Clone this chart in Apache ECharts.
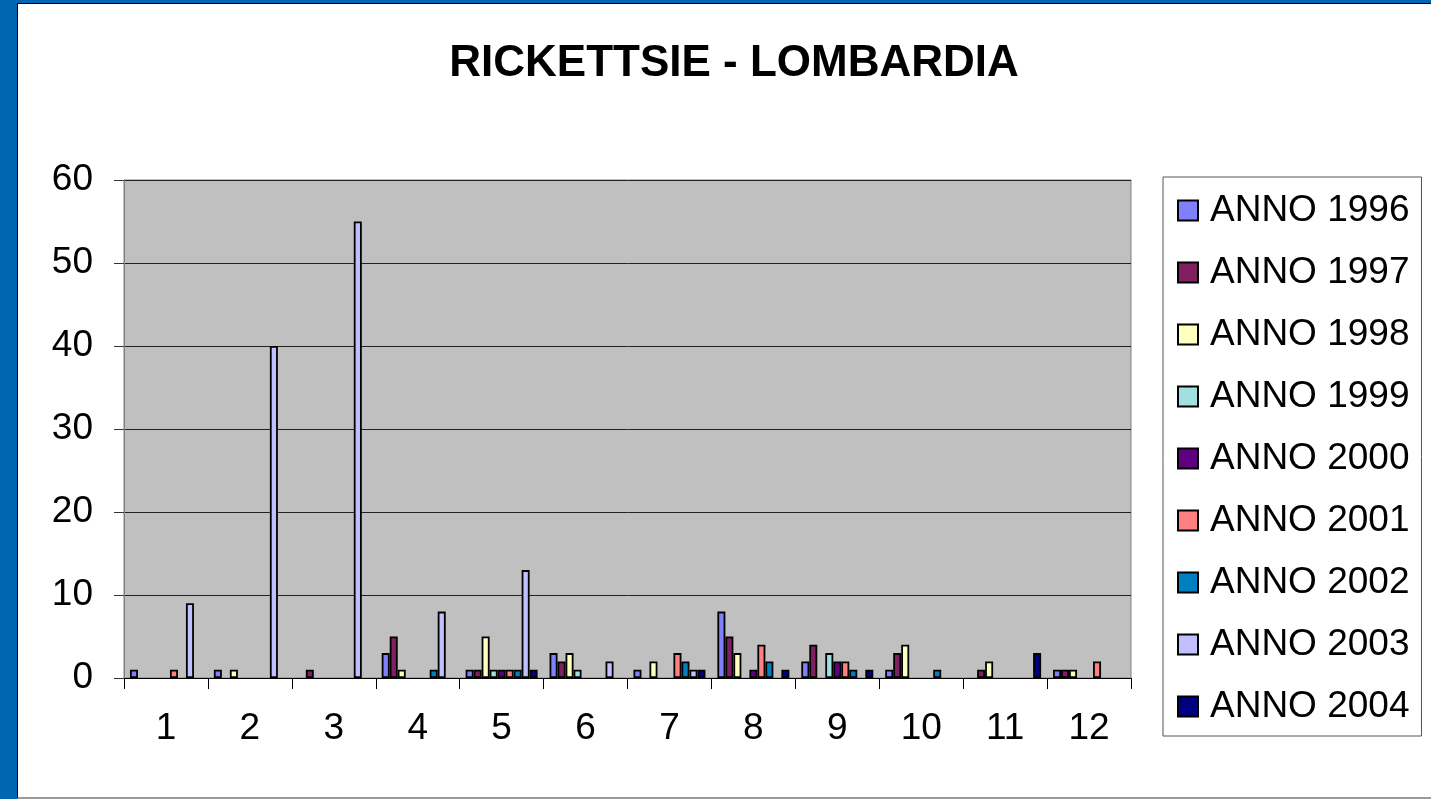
<!DOCTYPE html>
<html>
<head>
<meta charset="utf-8">
<script src="https://cdn.jsdelivr.net/npm/echarts@6/dist/echarts.min.js"></script>
<style>
html, body { margin: 0; padding: 0; background: #0066b3; }
#frame { position: absolute; left: 17px; top: 3px; width: 1414px; height: 796px; background: #fff; box-sizing: border-box; border-left: 1px solid #000; border-top: 1px solid #000; border-bottom: 2px solid #999; overflow: hidden; }
#chart { position: absolute; left: -18px; top: -4px; width: 1431px; height: 799px; }
</style>
</head>
<body>
<div id="frame"><div id="chart"></div></div>
<script>
// mesi
var mesi = ['1', '2', '3', '4', '5', '6', '7', '8', '9', '10', '11', '12'];
var anni = ['ANNO 1996', 'ANNO 1997', 'ANNO 1998', 'ANNO 1999', 'ANNO 2000', 'ANNO 2001', 'ANNO 2002', 'ANNO 2003', 'ANNO 2004'];
var colori = ['#8080ff', '#802060', '#ffffc0', '#a0e0e0', '#600080', '#ff8080', '#0080c0', '#c0c0ff', '#000080'];

// casi per mese, un array per anno
var a1996 = [1, 1, 0, 3, 1, 3, 1, 8, 2, 1, 0, 1];
var a1997 = [0, 0, 1, 5, 1, 2, 0, 5, 4, 3, 1, 1];
var a1998 = [0, 1, 0, 1, 5, 3, 2, 3, 0, 4, 2, 1];
var a1999 = [0, 0, 0, 0, 1, 1, 0, 0, 3, 0, 0, 0];
var a2000 = [0, 0, 0, 0, 1, 0, 0, 1, 2, 0, 0, 0];
var a2001 = [1, 0, 0, 0, 1, 0, 3, 4, 2, 0, 0, 2];
var a2002 = [0, 0, 0, 1, 1, 0, 2, 2, 1, 1, 0, 0];
var a2003 = [9, 40, 55, 8, 13, 2, 1, 0, 0, 0, 0, 0];
var a2004 = [0, 0, 0, 0, 1, 0, 1, 1, 1, 0, 3, 0];
var valori = [a1996, a1997, a1998, a1999, a2000, a2001, a2002, a2003, a2004];

var myChart = echarts.init(document.getElementById('chart'));
var font = 'Liberation Sans, Arial, sans-serif';

var serie = [];
for (var i = 0; i < anni.length; i++) {
	serie.push({
		name: anni[i],
		type: 'bar',
		barWidth: 8,
		barGap: '0%',
		itemStyle: { color: colori[i], borderColor: '#000', borderWidth: 1.8 },
		data: valori[i].map(function (v) { return v === 0 ? null : v; })
	});
}

var option = {
	animation: false,
	textStyle: { fontFamily: font },
	title: {
		text: 'RICKETTSIE - LOMBARDIA',
		left: 729,
		textAlign: 'center',
		top: 37,
		textStyle: { fontSize: 44, fontWeight: 'bold', color: '#000', fontFamily: font }
	},
	legend: {
		orient: 'vertical',
		left: 1163,
		top: 177,
		padding: [15, 12, 11, 14],
		itemGap: 25,
		itemWidth: 20,
		itemHeight: 20,
		borderColor: '#555',
		borderWidth: 1,
		icon: 'rect',
		itemStyle: { borderColor: '#000', borderWidth: 2 },
		textStyle: { fontSize: 37, color: '#000', lineHeight: 37, padding: [0, 0, 0, 7], fontFamily: font },
		data: anni
	},
	grid: {
		left: 124,
		top: 180,
		right: 300,
		bottom: 121,
		show: true,
		backgroundColor: '#c0c0c0',
		borderColor: '#808080',
		borderWidth: 1
	},
	xAxis: {
		type: 'category',
		data: mesi,
		axisLine: { lineStyle: { color: '#000', width: 1 } },
		axisTick: { show: true, length: 11, lineStyle: { color: '#000' } },
		axisLabel: { fontSize: 37, color: '#000', margin: 32, fontFamily: font }
	},
	yAxis: {
		type: 'value',
		min: 0,
		max: 60,
		interval: 10,
		axisLine: { show: true, lineStyle: { color: '#808080' } },
		axisTick: { show: true, length: 10, lineStyle: { color: '#333' } },
		axisLabel: { fontSize: 37, color: '#000', margin: 31, fontFamily: font },
		splitLine: { lineStyle: { color: '#222', width: 1 } }
	},
	series: serie
};

myChart.setOption(option);
</script>
</body>
</html>
